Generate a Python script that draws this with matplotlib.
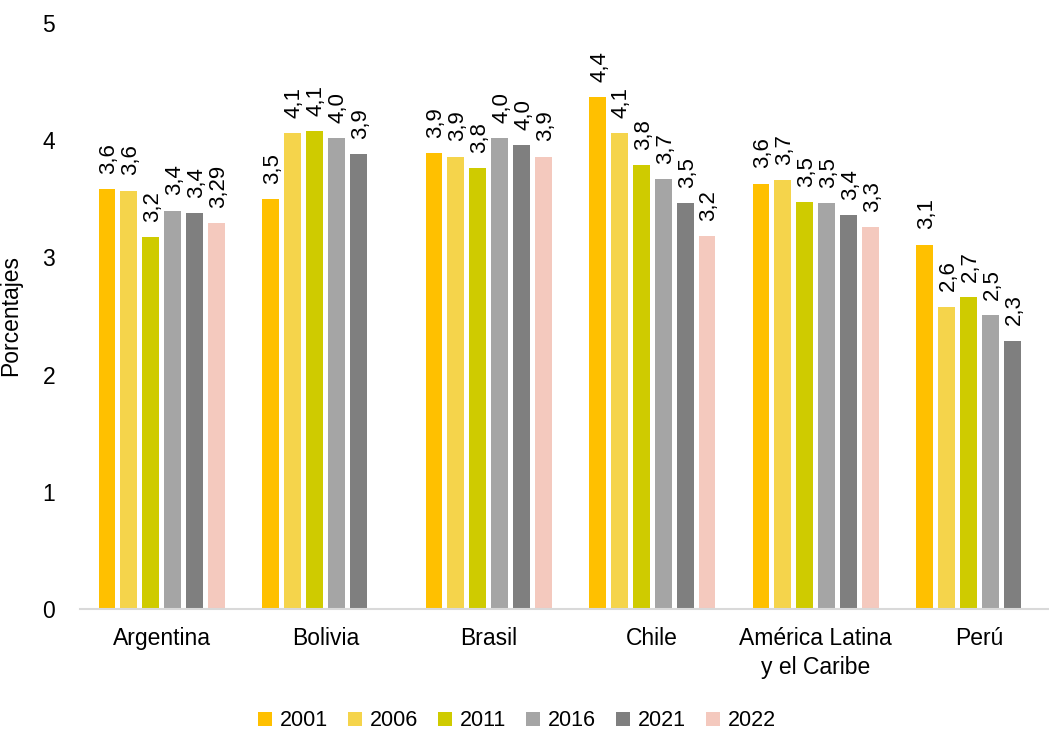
import numpy as np
import matplotlib
matplotlib.use("Agg")
import matplotlib.pyplot as plt
from matplotlib.patches import Patch

plt.rcParams["font.family"] = ["Liberation Sans", "DejaVu Sans"]

categories = ["Argentina", "Bolivia", "Brasil", "Chile",
              "América Latina\ny el Caribe", "Perú"]
years = ["2001", "2006", "2011", "2016", "2021", "2022"]

v2001 = [3.58, 3.50, 3.89, 4.37, 3.63, 3.11]
v2006 = [3.57, 4.06, 3.86, 4.06, 3.66, 2.58]
v2011 = [3.17, 4.08, 3.76, 3.79, 3.47, 2.66]
v2016 = [3.40, 4.02, 4.02, 3.67, 3.46, 2.51]
v2021 = [3.38, 3.88, 3.96, 3.46, 3.36, 2.29]
v2022 = [3.29, np.nan, 3.86, 3.18, 3.26, np.nan]

series = [v2001, v2006, v2011, v2016, v2021, v2022]
colors = ["#FFC000", "#F5D44B", "#CFCB00", "#A5A5A5", "#7F7F7F", "#F4C9BE"]

# labels printed with two decimals (everything else uses one)
two_decimals = {("Argentina", "2022")}

fig = plt.figure(figsize=(10.49, 7.31), dpi=100)
ax = fig.add_axes([80 / 1049, 122 / 731, 981 / 1049, 586 / 731])

x = np.arange(len(categories))
pitch = 0.134
width = 0.103
offsets = (np.arange(len(years)) - (len(years) - 1) / 2) * pitch

for i, (yr, vals, col) in enumerate(zip(years, series, colors)):
    vals = np.asarray(vals, dtype=float)
    xs = x + offsets[i]
    ax.bar(xs, vals, width=width, color=col, label=yr, zorder=2)
    for xi, v, cat in zip(xs, vals, categories):
        if np.isnan(v):
            continue
        nd = 2 if (cat, yr) in two_decimals else 1
        txt = f"{v:.{nd}f}".replace(".", ",")
        ax.annotate(txt, (xi, v), xytext=(1.5, 11), textcoords="offset points",
                    rotation=90, ha="center", va="bottom", fontsize=16,
                    color="#000000")

ax.set_xlim(-0.5, len(categories) - 0.5)
ax.set_ylim(0, 5)
ax.set_yticks([0, 1, 2, 3, 4, 5])
ax.set_yticklabels(["0", "1", "2", "3", "4", "5"])
ax.set_xticks(x)
ax.set_xticklabels(categories, fontsize=16.5, linespacing=1.35)
ax.tick_params(axis="x", length=0, pad=13, colors="#000000")
ax.tick_params(axis="y", length=0, pad=18, labelsize=16.5, colors="#000000")
for s in ["top", "right", "left"]:
    ax.spines[s].set_visible(False)
ax.spines["bottom"].set_color("#D9D9D9")
ax.spines["bottom"].set_linewidth(1.5)
ax.set_ylabel("Porcentajes", fontsize=16.5)
ax.yaxis.set_label_coords((22 - 80) / 981, 0.5)

handles = [Patch(facecolor=c, edgecolor="none") for c in colors]
fig.legend(handles, years, loc="center", bbox_to_anchor=(517 / 1049, 1 - 721 / 731),
           ncol=6, frameon=False, fontsize=15.5, handlelength=0.65, handleheight=0.65,
           handletextpad=0.35, columnspacing=0.95)

fig.savefig("out.png", dpi=100)
